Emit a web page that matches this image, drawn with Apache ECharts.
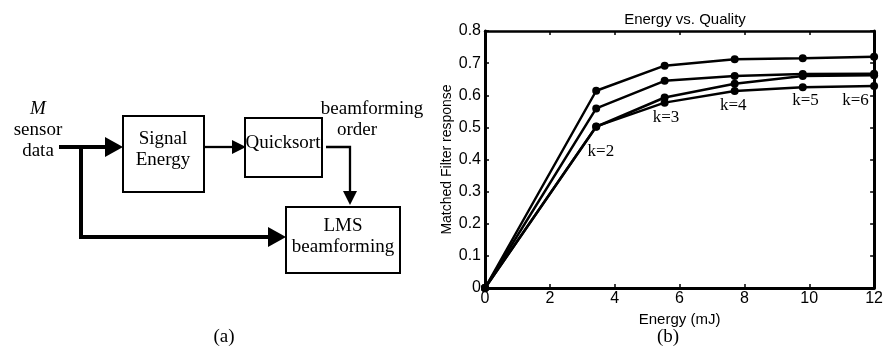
<!DOCTYPE html>
<html><head><meta charset="utf-8">
<script src="https://cdn.jsdelivr.net/npm/echarts@6/dist/echarts.min.js"></script>
<style>html,body{margin:0;padding:0;background:#fff}#c{width:886px;height:359px}</style>
</head><body><div id="c"></div>
<script>
// ---- chart (b) data ----
const energyX = [0, 3.43, 5.54, 7.70, 9.80, 12];
const seriesA = [0, 0.614, 0.692, 0.712, 0.715, 0.720];
const seriesB = [0, 0.559, 0.645, 0.660, 0.666, 0.667];
const seriesC = [0, 0.502, 0.593, 0.636, 0.660, 0.662];
const seriesD = [0, 0.503, 0.577, 0.613, 0.625, 0.629];
const kLabels = ['k=2', 'k=3', 'k=4', 'k=5', 'k=6'];
const kLabelX = [3.59, 5.60, 7.67, 9.90, 11.44];
const kLabelY = [0.424, 0.530, 0.567, 0.583, 0.583];
const xTicks = [0, 2, 4, 6, 8, 10, 12];
const yTicks = [0, 0.1, 0.2, 0.3, 0.4, 0.5, 0.6, 0.7, 0.8];
const chartTitle = 'Energy vs. Quality';
const xName = 'Energy (mJ)';
const yName = 'Matched Filter response';
// ---- diagram (a) texts ----
const inputLabel = ['M', 'sensor', 'data'];
const box1Label = ['Signal', 'Energy'];
const box2Label = ['Quicksort'];
const box3Label = ['LMS', 'beamforming'];
const orderLabel = ['beamforming', 'order'];
const panelLabels = ['(a)', '(b)'];

const pair = s => energyX.map((x, i) => [x, s[i]]);
const serif = 'Liberation Serif, Times New Roman, serif';
const sans = 'Liberation Sans, Arial, Helvetica, sans-serif';

const lineSeries = [seriesA, seriesB, seriesC, seriesD].map(s => ({
  type: 'line', data: pair(s), symbol: 'circle', symbolSize: 8,
  itemStyle: { color: '#000' }, lineStyle: { color: '#000', width: 2.5 },
  z: 3, silent: true, animation: false
}));

const labelSeries = {
  type: 'scatter', symbolSize: 1, animation: false, silent: true,
  itemStyle: { color: '#fff', opacity: 0 },
  data: kLabels.map((t, i) => ({ value: [kLabelX[i], kLabelY[i]], name: t })),
  label: { show: true, position: [0, 0], align: 'center', verticalAlign: 'middle',
    formatter: p => p.name, fontFamily: serif, fontSize: 17, color: '#000',
    textBorderWidth: 0, opacity: 1 }
};

function txt(x, y, s, opt) {
  return Object.assign({ type: 'text', x: x, y: y, style: Object.assign({
    text: s, fill: '#000', font: '19px ' + serif, textAlign: 'center', textVerticalAlign: 'middle'
  }, opt || {}) });
}
function line(pts, w) {
  return { type: 'polyline', shape: { points: pts }, style: { stroke: '#000', lineWidth: w, fill: null } };
}
function poly(pts) {
  return { type: 'polygon', shape: { points: pts }, style: { fill: '#000' } };
}
function rect(x, y, w, h) {
  return { type: 'rect', shape: { x: x, y: y, width: w, height: h }, style: { stroke: '#000', lineWidth: 2, fill: 'none' } };
}

const graphics = [
  txt(38, 109, inputLabel[0], { font: 'italic 19px ' + serif }),
  txt(38, 130, inputLabel[1]),
  txt(38, 151, inputLabel[2]),
  line([[59, 147], [108, 147]], 4),
  poly([[105, 137], [123, 147], [105, 157]]),
  line([[81, 147], [81, 237], [270, 237]], 4),
  poly([[268, 227], [286, 237], [268, 247]]),
  rect(123, 116, 81, 76),
  rect(245, 118, 77, 59),
  rect(286, 207, 114, 66),
  txt(163, 139, box1Label[0]), txt(163, 160, box1Label[1]),
  txt(283, 143, box2Label[0]),
  txt(343, 226, box3Label[0]), txt(343, 247, box3Label[1]),
  line([[204, 147], [234, 147]], 2.3),
  poly([[232, 140], [246, 147], [232, 154]]),
  line([[326, 147], [350, 147], [350, 193]], 2.3),
  poly([[343, 191], [350, 205], [357, 191]]),
  txt(372, 109, orderLabel[0]), txt(357, 130, orderLabel[1]),
  txt(224, 337, panelLabels[0]),
  txt(668, 337, panelLabels[1])
];

const axisCommon = {
  type: 'value',
  axisLine: { show: true, onZero: false, lineStyle: { color: '#000', width: 3 } },
  axisTick: { show: true, inside: true, length: 4, lineStyle: { color: '#000', width: 1.5 } },
  splitLine: { show: false }
};

const option = {
  animation: false,
  backgroundColor: '#fff',
  title: { text: chartTitle, left: 680, top: 7, textAlign: 'center',
    textStyle: { fontFamily: sans, fontSize: 15, fontWeight: 'normal', color: '#000' } },
  grid: { left: 485, right: 10, top: 31, bottom: 71, show: false },
  xAxis: [
    Object.assign({}, axisCommon, { min: xTicks[0], max: xTicks[xTicks.length - 1], interval: 2,
      name: xName, nameLocation: 'middle', nameGap: 20,
      nameTextStyle: { fontFamily: sans, fontSize: 15, color: '#000' },
      axisLabel: { color: '#000', fontFamily: sans, fontSize: 16, margin: 3 } }),
    Object.assign({}, axisCommon, { position: 'top', min: 0, max: 12, interval: 2,
      axisLine: { show: true, onZero: false, lineStyle: { color: '#000', width: 2.5 } },
      axisLabel: { show: false } })
  ],
  yAxis: [
    Object.assign({}, axisCommon, { min: yTicks[0], max: yTicks[yTicks.length - 1], interval: 0.1,
      name: yName, nameLocation: 'middle', nameGap: 31,
      nameTextStyle: { fontFamily: sans, fontSize: 14, color: '#000' },
      axisLabel: { color: '#000', fontFamily: sans, fontSize: 16, margin: 4,
        formatter: v => (v === 0 ? '0' : v.toFixed(1)) } }),
    Object.assign({}, axisCommon, { position: 'right', min: 0, max: 0.8, interval: 0.1,
      axisLabel: { show: false } })
  ],
  series: lineSeries.concat([labelSeries]),
  graphic: graphics
};

const chart = echarts.init(document.getElementById('c'), null, { renderer: 'canvas' });
chart.setOption(option);
</script>
</body></html>
